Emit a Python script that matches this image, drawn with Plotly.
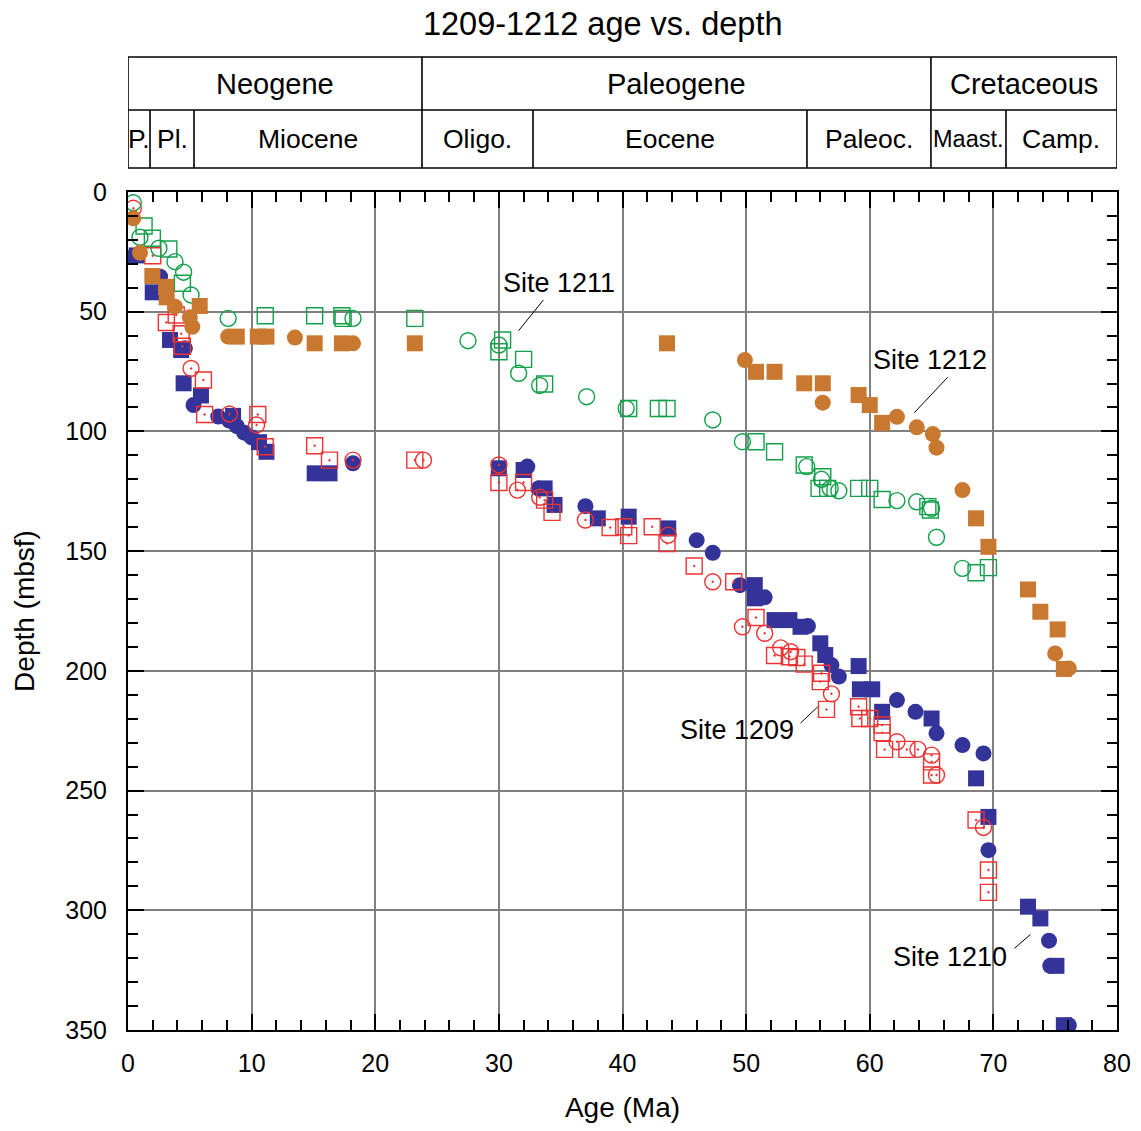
import plotly.graph_objects as go

# ---------------- data (Age Ma, Depth mbsf) ----------------
s1209_circ_age = [0.43, 5.1, 8.2, 10.4, 18.2, 23.9, 30.0, 31.5, 33.3, 37.0, 43.7, 47.3, 49.7, 51.5,
                  52.8, 53.6, 56.9, 62.2, 63.9, 65.0, 65.4, 69.2]
s1209_circ_depth = [6.8, 73.7, 92.7, 97.3, 112.0, 112.0, 114.0, 124.5, 127.5, 137.0, 143.3, 162.8, 181.6, 184.3,
                    190.4, 192.0, 209.6, 229.6, 232.8, 235.2, 243.5, 265.4]
s1209_sq_age = [2.0, 3.9, 3.1, 4.3, 4.4, 6.1, 6.2, 10.5, 11.1, 15.1, 16.3, 23.2, 30.0, 32.0, 33.7, 34.3,
                39.0, 40.1, 40.5, 42.4, 43.6, 45.8, 49.0, 50.8, 52.3, 53.5, 54.1, 54.7, 56.1, 56.0,
                56.5, 59.1, 59.2, 60.0, 61.0, 61.0, 61.2, 63.0, 65.0, 65.0, 68.6, 69.6, 69.6]
s1209_sq_depth = [26.6, 51.4, 54.5, 59.2, 64.4, 78.5, 92.9, 92.9, 106.4, 106.0, 112.0, 112.0, 121.3, 121.3, 128.7, 133.8,
                  140.1, 139.8, 143.5, 139.8, 146.8, 156.2, 162.8, 177.7, 193.6, 194.1, 194.4, 197.2, 201.0, 204.5,
                  216.1, 215.0, 219.9, 219.9, 222.6, 225.8, 232.8, 232.8, 238.0, 243.5, 262.3, 283.2, 292.5]

s1210_circ_age = [0.4, 2.6, 4.6, 5.3, 7.3, 8.2, 8.8, 9.4, 10.0, 18.2, 32.3, 33.2, 37.0, 46.0, 47.3, 49.5,
                  51.5, 55.0, 56.9, 57.5, 62.2, 63.7, 65.4, 67.5, 69.2, 69.6, 74.5, 74.6, 76.1]
s1210_circ_depth = [27.1, 35.4, 65.3, 89.0, 93.8, 95.5, 97.8, 100.5, 102.5, 113.3, 114.7, 123.8, 131.2, 145.4, 150.7, 164.2,
                    169.3, 181.3, 197.6, 202.4, 212.2, 217.1, 226.1, 231.0, 234.5, 274.9, 312.7, 323.2, 348.0]
s1210_sq_age = [0.7, 2.0, 3.4, 4.3, 4.5, 5.9, 8.5, 10.6, 11.2, 15.1, 16.3, 30.0, 32.0, 33.7, 34.5, 38.0,
                40.5, 43.7, 50.7, 50.7, 52.3, 53.5, 54.4, 56.0, 56.4, 59.1, 59.2, 60.2, 61.0, 65.0,
                68.6, 69.6, 72.8, 73.8, 75.1, 75.7]
s1210_sq_depth = [26.5, 41.9, 61.8, 66.0, 79.9, 85.0, 93.5, 104.5, 108.5, 117.5, 117.5, 115.4, 116.1, 123.8, 130.7, 136.3,
                  135.6, 140.5, 164.2, 169.7, 178.8, 178.8, 181.6, 188.5, 193.4, 198.0, 207.7, 207.7, 217.1, 219.9,
                  244.9, 261.0, 298.5, 303.4, 323.2, 348.0]

s1211_circ_age = [0.43, 0.97, 2.5, 3.8, 4.5, 5.1, 8.1, 18.2, 27.5, 30.0, 31.6, 33.3, 37.1, 40.3, 47.3, 49.7,
                  54.9, 56.1, 56.8, 57.5, 62.2, 63.8, 65.0, 65.4, 67.5]
s1211_circ_depth = [4.5, 18.9, 23.5, 29.1, 33.5, 43.0, 52.8, 52.8, 62.1, 63.9, 75.7, 80.8, 85.5, 90.4, 95.2, 104.3,
                    114.7, 120.0, 123.8, 124.8, 128.9, 129.4, 132.1, 144.2, 157.2]
s1211_sq_age = [1.3, 1.97, 3.3, 4.4, 11.1, 15.1, 17.3, 17.4, 23.2, 30.3, 30.0, 32.0, 33.7, 40.5, 42.9, 43.6,
                50.8, 52.3, 54.7, 56.2, 55.9, 56.6, 59.1, 60.0, 61.0, 64.7, 64.9, 68.6, 69.6]
s1211_sq_depth = [14.2, 19.3, 23.8, 38.1, 51.7, 51.7, 51.7, 52.8, 52.8, 61.8, 66.7, 69.9, 80.2, 90.4, 90.4, 90.4,
                  104.3, 108.5, 114.0, 118.9, 123.8, 123.8, 123.8, 123.8, 128.4, 131.4, 132.8, 159.0, 156.9]

s1212_circ_age = [0.43, 0.97, 3.8, 5.0, 5.2, 8.1, 13.5, 18.2, 49.9, 56.2, 62.2, 63.8, 65.1, 65.4, 67.5, 75.0, 76.1]
s1212_circ_depth = [11.0, 25.4, 47.9, 52.3, 56.3, 60.4, 60.8, 63.2, 70.2, 88.0, 93.9, 98.3, 101.1, 106.8, 124.5, 192.7, 199.0]
s1212_sq_age = [1.97, 3.07, 3.13, 5.8, 8.8, 10.5, 11.2, 15.1, 17.3, 23.2, 43.6, 50.8, 52.3, 54.7, 56.2, 59.1,
                60.0, 61.0, 68.6, 69.6, 72.8, 73.8, 75.2, 75.7]
s1212_sq_depth = [35.1, 39.6, 44.0, 47.6, 60.4, 60.4, 60.4, 63.2, 63.2, 63.2, 63.2, 75.1, 75.1, 79.9, 79.9, 84.8,
                  89.0, 96.4, 136.3, 148.2, 166.0, 175.3, 182.7, 199.2]

# geologic time scale
era_names = ["Neogene", "Paleogene", "Cretaceous"]
era_bounds = [0, 23.78, 64.95, 80]
epoch_names = ["P.", "Pl.", "Miocene", "Oligo.", "Eocene", "Paleoc.", "Maast.", "Camp."]
epoch_bounds = [0, 1.78, 5.34, 23.78, 32.76, 54.92, 64.95, 71.02, 80]

site_labels = ["Site 1211", "Site 1212", "Site 1209", "Site 1210"]

# ---------------- figure ----------------
BLUE = "#333399"
RED = "#ee3333"
GREEN = "#12a04a"
ORANGE = "#c8782f"
MS = 16

fig = go.Figure()

def add(x, y, symbol, color, open_=False):
    if open_:
        marker = dict(symbol=symbol, size=MS, color=color, line=dict(width=1.4, color=color))
    else:
        marker = dict(symbol=symbol, size=MS, color=color, line=dict(width=0))
    fig.add_trace(go.Scatter(x=x, y=y, mode="markers", marker=marker, showlegend=False, hoverinfo="x+y"))

add(s1210_sq_age, s1210_sq_depth, "square", BLUE)
add(s1210_circ_age, s1210_circ_depth, "circle", BLUE)
add(s1209_circ_age, s1209_circ_depth, "circle-open-dot", RED, True)
add(s1209_sq_age, s1209_sq_depth, "square-open-dot", RED, True)
add(s1211_circ_age, s1211_circ_depth, "circle-open", GREEN, True)
add(s1211_sq_age, s1211_sq_depth, "square-open", GREEN, True)
add(s1212_sq_age, s1212_sq_depth, "square", ORANGE)
add(s1212_circ_age, s1212_circ_depth, "circle", ORANGE)

FONT = "Liberation Sans, Arial, Helvetica, sans-serif"

axis_common = dict(
    showline=True, linecolor="black", linewidth=2, mirror="allticks",
    ticks="inside", ticklen=16, tickwidth=2, tickcolor="black",
    showgrid=True, gridcolor="#808080", gridwidth=2,
    zeroline=False, tickfont=dict(size=25, color="black", family=FONT),
    automargin=False,
)

fig.update_xaxes(range=[0, 80], dtick=10, tick0=0,
                 minor=dict(dtick=2, ticks="inside", ticklen=10, tickwidth=2, tickcolor="black", showgrid=False),
                 title=dict(text="Age (Ma)", font=dict(size=28, color="black", family=FONT), standoff=21),
                 ticklabelstandoff=10, **axis_common)
fig.update_yaxes(range=[350, 0], dtick=50, tick0=0,
                 minor=dict(dtick=10, ticks="inside", ticklen=10, tickwidth=2, tickcolor="black", showgrid=False),
                 title=dict(text="Depth (mbsf)", font=dict(size=28, color="black", family=FONT), standoff=22),
                 ticklabelstandoff=14, **axis_common)

# time-scale band
PH = 838.0
def py2paper(py):
    return (1030 - py) / PH

y_top = py2paper(57)
y_mid = py2paper(110)
y_bot = py2paper(168)

shapes = []
shapes.append(dict(type="rect", xref="x", yref="paper", x0=0, x1=80, y0=y_bot, y1=y_top,
                   line=dict(color="black", width=1.6), fillcolor="rgba(0,0,0,0)"))
shapes.append(dict(type="line", xref="x", yref="paper", x0=0, x1=80, y0=y_mid, y1=y_mid,
                   line=dict(color="black", width=1.6)))
for b in era_bounds[1:-1]:
    shapes.append(dict(type="line", xref="x", yref="paper", x0=b, x1=b, y0=y_mid, y1=y_top,
                       line=dict(color="black", width=1.6)))
for b in epoch_bounds[1:-1]:
    shapes.append(dict(type="line", xref="x", yref="paper", x0=b, x1=b, y0=y_bot, y1=y_mid,
                       line=dict(color="black", width=1.6)))

# site label leader lines
leaders = [((33.6, 45.1), (31.6, 57.9)),
           ((66.3, 77.4), (63.6, 92.2)),
           ((54.4, 221.8), (55.8, 215.0)),
           ((71.7, 315.9), (73.0, 310.1))]
for (a, b) in leaders:
    shapes.append(dict(type="line", xref="x", yref="y", x0=a[0], y0=a[1], x1=b[0], y1=b[1],
                       line=dict(color="black", width=1)))

annotations = []
for i, name in enumerate(era_names):
    cx = (era_bounds[i] + era_bounds[i + 1]) / 2
    annotations.append(dict(text=name, x=cx, y=(y_mid + y_top) / 2, xref="x", yref="paper",
                            showarrow=False, font=dict(size=29, color="black", family=FONT),
                            xanchor="center", yanchor="middle"))
for i, name in enumerate(epoch_names):
    cx = (epoch_bounds[i] + epoch_bounds[i + 1]) / 2
    size = 23.5 if name == "Maast." else 26.5
    annotations.append(dict(text=name, x=cx, y=(y_bot + y_mid) / 2, xref="x", yref="paper",
                            showarrow=False, font=dict(size=size, color="black", family=FONT),
                            xanchor="center", yanchor="middle"))

label_pos = [(34.9, 38.0), (64.9, 70.2), (49.3, 224.7), (66.5, 319.5)]
for name, (lx, ly) in zip(site_labels, label_pos):
    annotations.append(dict(text=name, x=lx, y=ly, xref="x", yref="y", showarrow=False,
                            font=dict(size=27, color="black", family=FONT),
                            xanchor="center", yanchor="middle"))

fig.update_layout(
    width=1141, height=1131,
    margin=dict(l=128, r=24, t=192, b=101, pad=0, autoexpand=False),
    paper_bgcolor="white", plot_bgcolor="white",
    title=dict(text="1209-1212 age vs. depth", x=0.480, xref="paper", xanchor="center",
               y=1 - 24 / 1131, yref="container", yanchor="middle",
               font=dict(size=32.5, color="black", family=FONT)),
    shapes=shapes, annotations=annotations,
    font=dict(family=FONT, color="black"),
)

fig.write_html("out.html")
